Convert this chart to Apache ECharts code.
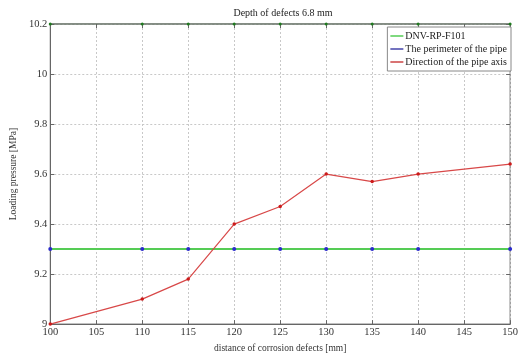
<!DOCTYPE html>
<html><head><meta charset="utf-8">
<script src="https://cdn.jsdelivr.net/npm/echarts@6/dist/echarts.min.js"></script>
<style>html,body{margin:0;padding:0;background:#fff}#c{width:521px;height:358px}</style>
</head><body><div id="c"></div>
<script>
const xValues = [100, 110, 115, 120, 125, 130, 135, 140, 150];
const dnvValues = [9.3, 9.3, 9.3, 9.3, 9.3, 9.3, 9.3, 9.3, 9.3];
const perimeterValues = [9.3, 9.3, 9.3, 9.3, 9.3, 9.3, 9.3, 9.3, 9.3];
const axisDirValues = [9.0, 9.10, 9.18, 9.40, 9.47, 9.60, 9.57, 9.60, 9.64];
const topValues = [10.2, 10.2, 10.2, 10.2, 10.2, 10.2, 10.2, 10.2, 10.2];
const seriesNames = ['DNV-RP-F101', 'The perimeter of the pipe', 'Direction of the pipe axis'];

const pairs = v => xValues.map((x, i) => [x, v[i]]);
const font = 'Liberation Serif';
const chart = echarts.init(document.getElementById('c'));
chart.setOption({
  animation: false,
  textStyle: { fontFamily: font },
  title: { text: 'Depth of defects 6.8 mm', left: 278, top: 3, textAlign: 'center',
    textStyle: { fontFamily: font, fontSize: 10, fontWeight: 'normal', color: '#222' } },
  grid: { left: 45, right: 9, top: 24, bottom: 26, show: true, borderColor: '#666', borderWidth: 1 },
  legend: {
    right: 10, top: 27, orient: 'vertical', itemGap: 3, itemWidth: 13, itemHeight: 1.5,
    padding: [4, 4, 4, 3], backgroundColor: '#fff', borderColor: '#888', borderWidth: 1, borderRadius: 0,
    textStyle: { fontFamily: font, fontSize: 10, color: '#222', padding: [0, 0, 0, -3] },
    data: [
      { name: seriesNames[0], icon: 'rect', itemStyle: { color: '#55cc55', borderWidth: 0 }, lineStyle: { width: 0 } },
      { name: seriesNames[1], icon: 'rect', itemStyle: { color: '#4444aa', borderWidth: 0 }, lineStyle: { width: 0 } },
      { name: seriesNames[2], icon: 'rect', itemStyle: { color: '#cc4444', borderWidth: 0 }, lineStyle: { width: 0 } }
    ]
  },
  xAxis: [{
    type: 'value', min: 100, max: 150, interval: 5,
    name: 'distance of corrosion defects [mm]', nameLocation: 'middle', nameGap: 16,
    nameTextStyle: { fontFamily: font, fontSize: 9.5, color: '#333' },
    axisLine: { lineStyle: { color: '#666' } },
    axisTick: { inside: true, length: 4, lineStyle: { color: '#666' } },
    axisLabel: { fontFamily: font, fontSize: 10.5, color: '#333', margin: 3 },
    splitLine: { show: true, lineStyle: { color: '#c8c8c8', type: [2, 2] } }
  }, {
    type: 'value', min: 100, max: 150, interval: 5, position: 'top',
    axisLine: { show: false }, axisLabel: { show: false }, splitLine: { show: false },
    axisTick: { inside: true, length: 4, lineStyle: { color: '#666' } }
  }],
  yAxis: [{
    type: 'value', min: 9, max: 10.2, interval: 0.2,
    name: 'Loading pressure [MPa]', nameLocation: 'middle', nameGap: 27,
    nameTextStyle: { fontFamily: font, fontSize: 9.5, color: '#333' },
    axisLine: { show: true, lineStyle: { color: '#666' } },
    axisTick: { show: true, inside: true, length: 4, lineStyle: { color: '#666' } },
    axisLabel: { fontFamily: font, fontSize: 10.5, color: '#333', margin: 3 },
    splitLine: { show: true, lineStyle: { color: '#c8c8c8', type: [2, 2] } }
  }, {
    type: 'value', min: 9, max: 10.2, interval: 0.2, position: 'right',
    axisLine: { show: false }, axisLabel: { show: false }, splitLine: { show: false },
    axisTick: { show: true, inside: true, length: 4, lineStyle: { color: '#666' } }
  }],
  series: [
    { name: '__top', type: 'line', data: pairs(topValues), clip: false, z: 4,
      lineStyle: { color: '#556655', width: 1 }, symbol: 'circle', symbolSize: 3,
      itemStyle: { color: '#1e7a1e' }, legendHoverLink: false },
    { name: seriesNames[0], type: 'line', data: pairs(dnvValues), z: 3, showSymbol: false,
      lineStyle: { color: '#55cc55', width: 2 }, itemStyle: { color: '#55cc55' } },
    { name: seriesNames[1], type: 'line', data: pairs(perimeterValues), z: 4,
      symbol: 'circle', symbolSize: 4, lineStyle: { width: 0, color: '#4444aa' },
      itemStyle: { color: '#2a2acc' } },
    { name: seriesNames[2], type: 'line', data: pairs(axisDirValues), z: 5, clip: false,
      symbol: 'circle', symbolSize: 3.5, lineStyle: { color: '#d84848', width: 1.2 },
      itemStyle: { color: '#cc1a1a' } }
  ]
});
</script></body></html>
